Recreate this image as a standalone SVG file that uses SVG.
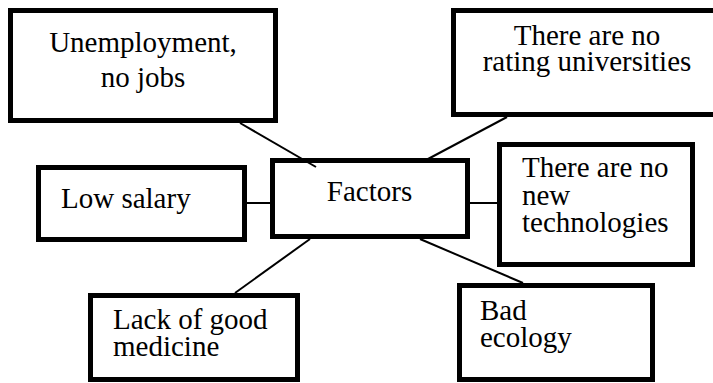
<svg xmlns="http://www.w3.org/2000/svg" width="713" height="383" viewBox="0 0 713 383">
  <style>
    .box { fill: #ffffff; stroke: #000000; stroke-width: 5; }
    .link { stroke: #000000; stroke-width: 2; fill: none; }
    .mid { text-anchor: middle; }
  </style>
  <rect width="713" height="383" fill="#ffffff"/>

  <!-- factor boxes, serif labels -->
  <g font-size="29" fill="#000000">
    <g id="node-unemployment" font-family="'Liberation Serif', serif">
      <rect class="box" x="10.5" y="10.5" width="265" height="110"/>
      <text class="mid" x="143" y="52">Unemployment,</text>
      <text class="mid" x="143" y="87">no jobs</text>
    </g>

    <g id="node-universities" font-family="'Liberation Serif', serif">
      <rect class="box" x="453.5" y="10.5" width="265" height="104"/>
      <text class="mid" x="587" y="45">There are no</text>
      <text class="mid" x="587" y="71">rating universities</text>
    </g>

    <g id="node-salary" font-family="'Liberation Serif', serif">
      <rect class="box" x="38.5" y="167.5" width="206" height="72"/>
      <text x="61" y="208">Low salary</text>
    </g>

    <g id="node-factors" font-family="'Liberation Serif', serif">
      <rect class="box" x="272.5" y="160.5" width="195" height="76"/>
      <text class="mid" x="369.5" y="201">Factors</text>
    </g>

    <g id="node-technologies" font-family="'Liberation Serif', serif">
      <rect class="box" x="499.5" y="144.5" width="193" height="120"/>
      <text x="522" y="177">There are no</text>
      <text x="522" y="205">new</text>
      <text x="522" y="232">technologies</text>
    </g>

    <g id="node-medicine" font-family="'Liberation Serif', serif">
      <rect class="box" x="90.5" y="295.5" width="207" height="84"/>
      <text x="113" y="329">Lack of good</text>
      <text x="113" y="356">medicine</text>
    </g>

    <g id="node-ecology" font-family="'Liberation Serif', serif">
      <rect class="box" x="459.5" y="285.5" width="193" height="94"/>
      <text x="480" y="320">Bad</text>
      <text x="480" y="347">ecology</text>
    </g>
  </g>

  <!-- links from the central box -->
  <g id="connectors">
    <line class="link" x1="240" y1="123" x2="316" y2="167"/>
    <line class="link" x1="507" y1="117" x2="428" y2="159"/>
    <line class="link" x1="247" y1="203" x2="270" y2="203"/>
    <line class="link" x1="470" y1="203" x2="497" y2="203"/>
    <line class="link" x1="310" y1="239" x2="235" y2="293"/>
    <line class="link" x1="420" y1="239" x2="523" y2="283"/>
  </g>
</svg>
